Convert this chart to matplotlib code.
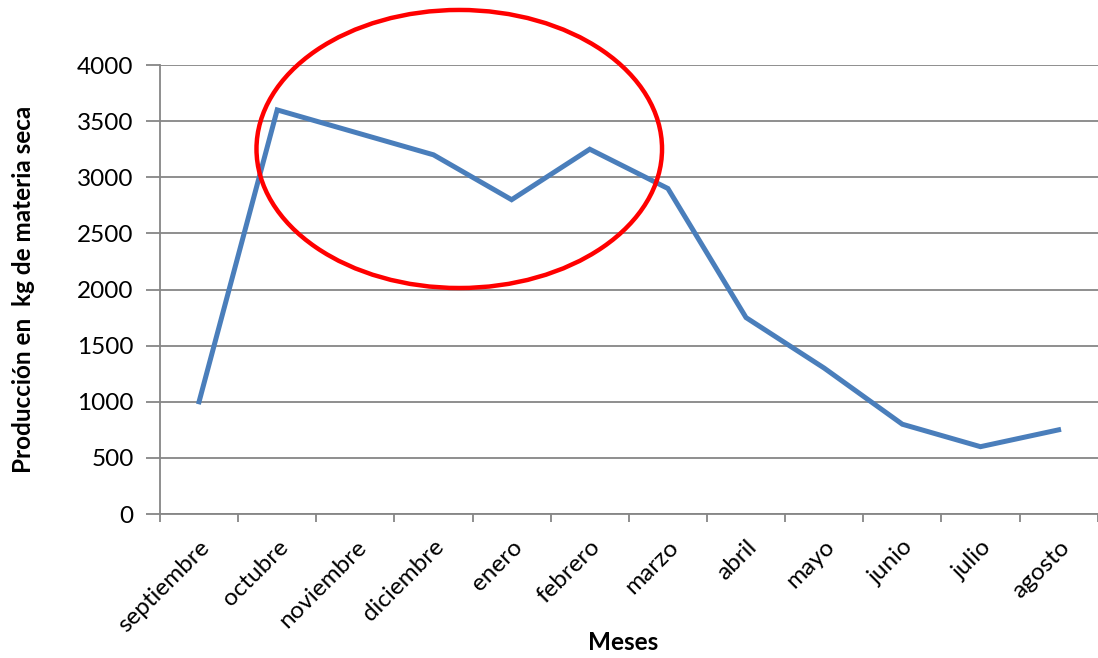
import matplotlib
matplotlib.use("Agg")
import matplotlib.pyplot as plt
from matplotlib.patches import Ellipse
import numpy as np

meses = ["septiembre", "octubre", "noviembre", "diciembre", "enero", "febrero",
         "marzo", "abril", "mayo", "junio", "julio", "agosto"]
produccion = [1000, 3600, 3400, 3200, 2800, 3250, 2900, 1750, 1300, 800, 600, 750]
yticks = [0, 500, 1000, 1500, 2000, 2500, 3000, 3500, 4000]

plt.rcParams["font.family"] = ["Lato", "DejaVu Sans"]
grid_color = "#868686"

fig = plt.figure(figsize=(10.98, 6.58), dpi=100)
ax = fig.add_axes([0.1457, 0.2188, 0.854, 0.6824])

x = np.arange(len(meses))
ax.plot(x, produccion, color="#4A7EBB", linewidth=3.6, solid_joinstyle="miter", zorder=3)

ax.set_xlim(-0.5, len(meses) - 0.5)
ax.set_ylim(0, 4000)
ax.set_yticks(yticks)
ax.set_yticklabels([str(v) for v in yticks], fontsize=17.5)
ax.yaxis.grid(True, color=grid_color, linewidth=1.3)
ax.set_axisbelow(True)

ax.set_xticks(x)
ax.set_xticklabels(meses, fontsize=17.5, rotation=45, ha="right", rotation_mode="anchor")
ax.set_xticks(np.arange(-0.5, len(meses)), minor=True)
ax.tick_params(axis="x", which="major", length=0, pad=16)
ax.tick_params(axis="x", which="minor", length=6, color=grid_color, width=1.3)
ax.tick_params(axis="y", length=10, color=grid_color, width=1.3, pad=9)

for s in ["top", "right"]:
    ax.spines[s].set_visible(False)
for s in ["left", "bottom"]:
    ax.spines[s].set_color(grid_color)
    ax.spines[s].set_linewidth(1.3)

ax.set_xlabel("Meses", fontsize=17.5, fontweight="bold")
ax.xaxis.label.set_va("center")
ax.xaxis.set_label_coords(0.494, -0.287)
ax.set_ylabel("Producción en  kg de materia seca", fontsize=17.5, fontweight="bold")
ax.yaxis.label.set_va("center")
ax.yaxis.set_label_coords(-0.1455, 0.5)

# circulo rojo de resalte
ell = Ellipse((3.33, 3252), width=5.19, height=2477, fill=False,
              edgecolor="#FF0000", linewidth=3.2, clip_on=False, zorder=4)
ax.add_patch(ell)

fig.savefig("out.png", dpi=100)
